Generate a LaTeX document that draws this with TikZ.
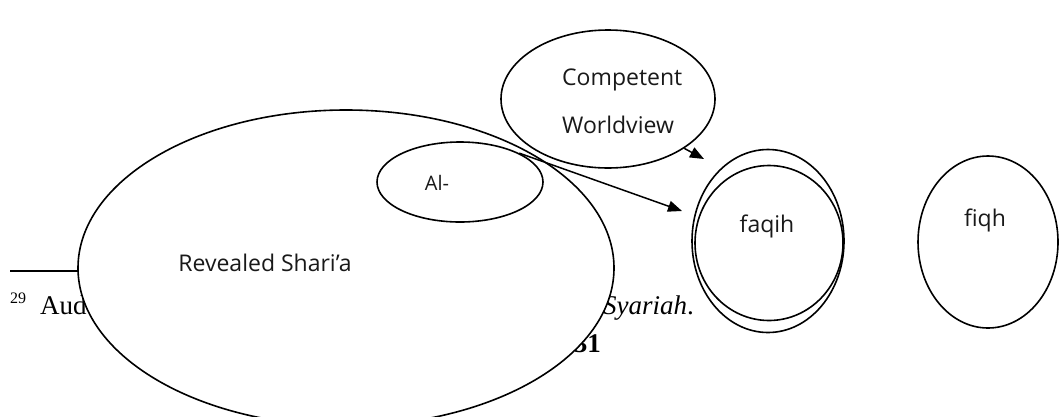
\documentclass[tikz,border=0pt]{standalone}
\usepackage{fontspec}
\setmainfont{Liberation Serif}
\newfontfamily\ovalfont{Open Sans}
\usetikzlibrary{arrows.meta, positioning, calc, shapes.geometric}

\begin{document}
\begin{tikzpicture}[
    x=1pt, y=-1pt,
    >={Triangle[length=14pt, width=11pt]},
    every node/.style={inner sep=0pt},
    oval/.style={
        draw=black, line width=1.6pt, ellipse, fill=white
    },
    ovallabel/.style={font=\ovalfont\fontsize{23}{48}\selectfont, text=black!90, align=left},
    pagetext/.style={font=\fontsize{27}{30}\selectfont, anchor=base west},
    arrstyle/.style={->, line width=1.5pt, black},
]
\useasboundingbox (0,0) rectangle (1059,416);

% === page text behind the shapes ===
\draw[line width=1.4pt] (10,271) -- (200,271);
\node[pagetext, font=\fontsize{16}{18}\selectfont] (fnmark) at (10,303) {29};
\node[pagetext] (fnauthor) at (40,314) {Aud};
\node[pagetext] (fntitle) at (603,314) {\textit{Syariah}.};
\node[pagetext, anchor=base east] (pageno) at (601,352) {\textbf{31}};

% === Revealed Shari'a ===
\node[oval, minimum width=536pt, minimum height=316pt] (rev) at (346,268) {};
\node[ovallabel] (revtext) at ($(rev.center)+(-81,-5)$) {Revealed Shari’a};

% === Al- ===
\node[oval, minimum width=166pt, minimum height=80pt] (al) at (460,182) {};
\node[ovallabel, font=\ovalfont\fontsize{20}{24}\selectfont] (altext) at ($(al.center)+(-23,1)$) {Al-};

% === Competent Worldview ===
\node[oval, fill=none, minimum width=214pt, minimum height=138pt] (cw) at (608,99) {};
\node[ovallabel, anchor=west] (cwtext) at (562,101) {Competent\\Worldview};

% === faqih (two outlines) ===
\node[oval, fill=none, minimum width=152pt, minimum height=183pt] (faqout) at (768,241) {};
\node[oval, fill=none, minimum width=148pt, minimum height=155pt] (faqin) at (769,243) {};
\node[ovallabel] (faqtext) at ($(faqin.center)+(-2,-17)$) {faqih};

% === fiqh ===
\node[oval, fill=none, minimum width=140pt, minimum height=172pt] (fiqh) at (988,242) {};
\node[ovallabel] (fiqtext) at ($(fiqh.center)+(-3,-22)$) {fiqh};

% === Arrows ===
\coordinate (altip) at (682,211);
\coordinate (cwtip) at (704,159);
\draw[arrstyle] (al.north east) -- (altip);
\draw[arrstyle] (cw.south east) -- (cwtip);

\end{tikzpicture}
\end{document}
